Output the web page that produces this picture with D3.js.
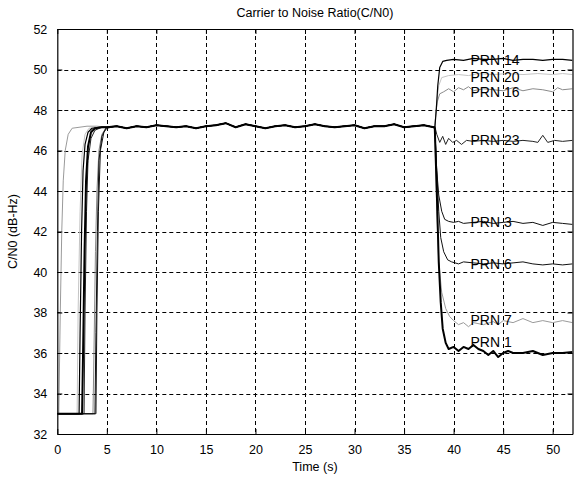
<!DOCTYPE html>
<html>
<head>
<meta charset="utf-8">
<script src="https://cdn.jsdelivr.net/npm/d3@7"></script>
<style>
  html, body { margin: 0; padding: 0; background: #fff; }
  svg { display: block; }
  text { font-family: "Liberation Sans", Arial, Helvetica, sans-serif; fill: #000; }
</style>
</head>
<body>
<svg id="chart" width="582" height="479"></svg>
<script>
// ---------------- data ----------------
const title = "Carrier to Noise Ratio(C/N0)";
const xLabel = "Time (s)";
const yLabel = "C/N0 (dB-Hz)";
const xTicks = [0, 5, 10, 15, 20, 25, 30, 35, 40, 45, 50];
const yTicks = [32, 34, 36, 38, 40, 42, 44, 46, 48, 50, 52];
const xDomain = [0, 52];
const yDomain = [32, 52];

const seriesNames = ["PRN 14", "PRN 20", "PRN 16", "PRN 23", "PRN 3", "PRN 6", "PRN 7", "PRN 1"];
// C/N0 level at which each label sits (dB-Hz)
const labelLevels = [50.45, 49.62, 48.88, 46.5, 42.45, 40.42, 37.62, 36.55];
const labelTime = 41.7;

// acquisition (start-up) segments [t, C/N0]
const startPRN14 = [[0,33],[2.2,33],[2.3,37],[2.45,42],[2.6,45],[2.8,46.3],[3.1,46.9],[3.5,47.1],[4.5,47.15]];
const startPRN20 = [[0,33],[2.0,33],[2.1,38],[2.3,43],[2.5,45.8],[2.8,46.8],[3.2,47.1],[4.5,47.15]];
const startPRN16 = [[0,33],[3.6,33],[3.7,36],[3.85,41],[4.0,44],[4.2,46],[4.5,46.8],[4.9,47.1]];
const startPRN23 = [[0,33],[2.7,33],[2.8,38],[2.95,43],[3.1,45.5],[3.4,46.6],[3.8,47.0],[4.5,47.15]];
const startPRN3  = [[0,33],[3.8,33],[3.9,37],[4.05,42],[4.2,45.5],[4.5,46.7],[4.9,47.1]];
const startPRN6  = [[0,33],[3.9,33],[4.0,38],[4.15,43],[4.35,46],[4.7,46.9],[5.0,47.1]];
const startPRN7  = [[0,33],[0.15,33],[0.3,38],[0.45,42],[0.6,44.5],[0.8,46],[1.1,46.8],[1.5,47.1],[3,47.2],[4,47.2]];
const startPRN1  = [[0,33],[2.5,33],[2.6,36],[2.75,41],[2.9,44.5],[3.1,46.2],[3.4,46.9],[3.8,47.1],[4.5,47.15]];

// common tracking plateau [t, C/N0]
const plateau = [[5,47.15],[6,47.2],[7,47.1],[8,47.2],[9,47.15],[10,47.25],[11,47.2],[12,47.15],[13,47.2],[14,47.1],
  [15,47.2],[16,47.25],[17,47.35],[18,47.15],[19,47.3],[20,47.2],[21,47.1],[22,47.2],[23,47.25],[24,47.15],
  [25,47.2],[26,47.3],[27,47.2],[28,47.15],[29,47.2],[30,47.25],[31,47.1],[32,47.2],[33,47.2],[34,47.3],
  [35,47.15],[36,47.2],[37,47.25],[38,47.15]];

// segments after the change at ~38 s [t, C/N0]
const tailPRN14 = [[38.1,47.1],[38.25,48.0],[38.4,49.2],[38.6,50.1],[38.9,50.4],[39.3,50.45],[40,50.5],[41,50.45],[42,50.55],[43,50.5],[44,50.5],[45,50.55],[46,50.45],[47,50.5],[48,50.5],[49,50.45],[50,50.5],[51,50.5],[52,50.45]];
const tailPRN20 = [[38.1,47.1],[38.25,48.2],[38.5,49.2],[38.8,49.6],[39.5,49.7],[40.5,49.75],[41.5,49.7],[42.5,49.8],[44,49.75],[45.5,49.8],[47,49.75],[48.5,49.8],[50,49.75],[51,49.8],[52,49.75]];
const tailPRN16 = [[38.1,47.1],[38.2,47.8],[38.35,48.4],[38.6,48.8],[39,48.9],[39.5,49.05],[40,48.9],[40.5,49.1],[41,49.0],[41.5,49.15],[42,48.95],[43,49.05],[44,49.0],[45,48.95],[46,49.1],[47,48.95],[48,49.05],[49,49.0],[50,48.9],[50.5,49.1],[51,49.0],[52,49.05]];
const tailPRN23 = [[38.1,47.2],[38.3,46.8],[38.6,46.4],[38.9,46.7],[39.2,46.3],[39.5,46.6],[39.9,46.4],[40.3,46.5],[40.8,46.3],[41.3,46.5],[42,46.45],[43,46.5],[44,46.45],[45,46.5],[46,46.45],[47,46.5],[48,46.45],[48.5,46.4],[49,46.75],[49.5,46.4],[50.2,46.5],[51,46.45],[52,46.5]];
const tailPRN3  = [[38.1,47.1],[38.3,45],[38.5,43.8],[38.8,43.0],[39.1,42.6],[39.5,42.5],[40,42.45],[40.5,42.5],[41,42.4],[42,42.45],[43,42.5],[44,42.4],[45,42.45],[46,42.5],[47,42.4],[48,42.45],[49,42.3],[50,42.45],[51,42.4],[52,42.35]];
const tailPRN6  = [[38.1,47.1],[38.3,45],[38.5,43],[38.7,41.7],[39,41.0],[39.4,40.6],[39.8,40.5],[40.5,40.4],[41,40.5],[42,40.45],[43,40.4],[44,40.45],[45,40.4],[46,40.45],[47,40.5],[48,40.4],[49,40.35],[50,40.4],[51,40.35],[52,40.4]];
const tailPRN7  = [[38.1,47.1],[38.3,43],[38.5,40.5],[38.8,39.0],[39.2,38.2],[39.6,37.8],[40,37.6],[40.5,37.4],[41,37.5],[41.5,37.3],[42,37.5],[43,37.4],[44,37.55],[44.5,37.4],[45,37.6],[46,37.5],[47,37.7],[48,37.5],[49,37.6],[50,37.5],[51,37.6],[52,37.5]];
const tailPRN1  = [[38.1,47.1],[38.3,44],[38.5,40.5],[38.7,38.5],[38.9,37.2],[39.2,36.5],[39.5,36.2],[40,36.3],[40.5,36.1],[41,36.3],[41.5,36.2],[42,36.4],[42.5,36.2],[43,36.1],[43.5,35.9],[44,36.1],[44.5,35.8],[45,36.0],[45.5,36.1],[46,36.0],[47,36.0],[48,36.1],[49,35.9],[50,36.0],[51,36.0],[52,36.05]];

const starts = [startPRN14, startPRN20, startPRN16, startPRN23, startPRN3, startPRN6, startPRN7, startPRN1];
const tails  = [tailPRN14, tailPRN20, tailPRN16, tailPRN23, tailPRN3, tailPRN6, tailPRN7, tailPRN1];

// ---------------- styles ----------------
const seriesStroke = ["#000", "#c4c4c4", "#8a8a8a", "#222", "#111", "#111", "#9a9a9a", "#000"];
const seriesWidth  = [1.2, 1, 1, 1, 1, 1, 1, 2];
const drawOrder = [1, 2, 6, 3, 4, 5, 0, 7];

// ---------------- layout ----------------
const svg = d3.select("#chart");
const pL = 57.3, pR = 572.5, pT = 29, pB = 434;
const x = d3.scaleLinear().domain(xDomain).range([pL, pR]);
const y = d3.scaleLinear().domain(yDomain).range([pB, pT]);

const font = 12.5;

// grid
const grid = svg.append("g").attr("stroke", "#000").attr("stroke-width", 1).attr("stroke-dasharray", "4,3");
grid.selectAll("line.v").data(xTicks.filter(t => t > xDomain[0] && t < xDomain[1])).join("line")
  .attr("x1", d => Math.round(x(d)) + 0.5).attr("x2", d => Math.round(x(d)) + 0.5)
  .attr("y1", pT).attr("y2", pB);
grid.selectAll("line.h").data(yTicks.filter(t => t > yDomain[0] && t < yDomain[1])).join("line")
  .attr("x1", pL).attr("x2", pR)
  .attr("y1", d => Math.round(y(d)) + 0.5).attr("y2", d => Math.round(y(d)) + 0.5);

// series
const line = d3.line().x(d => x(d[0])).y(d => y(d[1]));
const seriesData = starts.map((s, i) => {
  const lastT = s[s.length - 1][0];
  return s.concat(plateau.filter(p => p[0] > lastT)).concat(tails[i]);
});
svg.append("clipPath").attr("id", "clip").append("rect")
  .attr("x", pL).attr("y", pT).attr("width", pR - pL).attr("height", pB - pT);
const plot = svg.append("g").attr("clip-path", "url(#clip)");
drawOrder.forEach(i => {
  plot.append("path").datum(seriesData[i])
    .attr("fill", "none")
    .attr("stroke", seriesStroke[i])
    .attr("stroke-width", seriesWidth[i])
    .attr("stroke-linejoin", "round")
    .attr("d", line);
});

// axes (MATLAB box style, inward ticks)
const axB = d3.axisBottom(x).tickValues(xTicks).tickSizeInner(-5).tickSizeOuter(0).tickPadding(11);
const axL = d3.axisLeft(y).tickValues(yTicks).tickSizeInner(-5).tickSizeOuter(0).tickPadding(10);
const axT = d3.axisTop(x).tickValues(xTicks).tickSizeInner(-5).tickSizeOuter(0).tickFormat("");
const axR = d3.axisRight(y).tickValues(yTicks).tickSizeInner(-5).tickSizeOuter(0).tickFormat("");
function style(g) {
  g.selectAll("path.domain").attr("stroke", "#000").attr("stroke-width", 1.2);
  g.selectAll(".tick line").attr("stroke", "#000");
  g.selectAll("text").attr("font-size", font).attr("font-family", "Liberation Sans, Arial, sans-serif").attr("fill", "#000");
}
svg.append("g").attr("transform", `translate(0,${pB})`).call(axB).call(style);
svg.append("g").attr("transform", `translate(${pL},0)`).call(axL).call(style);
svg.append("g").attr("transform", `translate(0,${pT})`).call(axT).call(style);
svg.append("g").attr("transform", `translate(${pR},0)`).call(axR).call(style);

// series labels
svg.append("g").selectAll("text").data(seriesNames).join("text")
  .attr("x", x(labelTime))
  .attr("y", (d, i) => y(labelLevels[i]))
  .attr("dy", "0.36em")
  .attr("font-size", 14)
  .text(d => d);

// title & axis labels
svg.append("text").attr("x", (pL + pR) / 2).attr("y", 17).attr("text-anchor", "middle")
  .attr("font-size", font).text(title);
svg.append("text").attr("x", (pL + pR) / 2).attr("y", 471).attr("text-anchor", "middle")
  .attr("font-size", font).text(xLabel);
svg.append("text").attr("transform", `translate(17,${(pT + pB) / 2}) rotate(-90)`)
  .attr("text-anchor", "middle").attr("font-size", font).text(yLabel);
</script>
</body>
</html>
